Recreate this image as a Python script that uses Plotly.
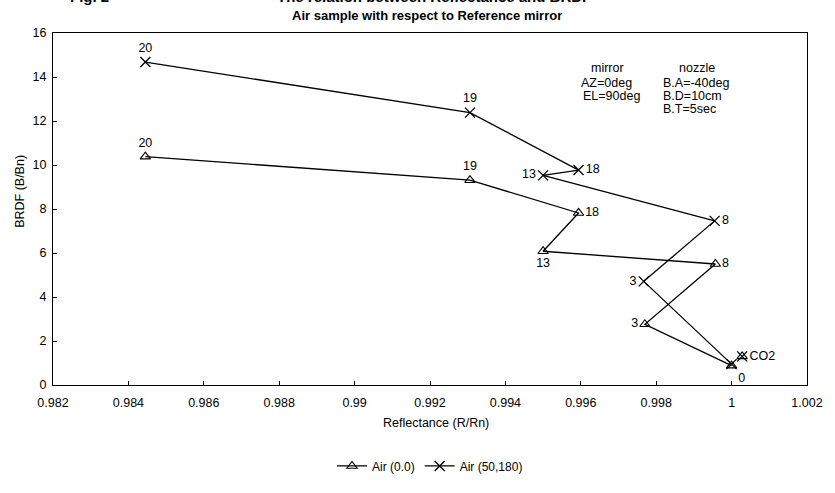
import plotly.graph_objects as go

# Data
labels = ["20", "19", "18", "13", "8", "3", "0"]
air00_x = [0.98445, 0.99306, 0.99594, 0.99500, 0.99957, 0.99770, 1.00000]
air00_y = [10.38, 9.31, 7.82, 6.08, 5.50, 2.76, 0.88]
air50_x = [0.98445, 0.99306, 0.99594, 0.99500, 0.99955, 0.99767, 1.00000]
air50_y = [14.68, 12.38, 9.77, 9.53, 7.46, 4.71, 0.95]
co2_x = [1.00028]
co2_y = [1.30]
co2_label = ["CO2"]

air00_pos = ["top center", "top center", "middle right", "bottom center", "middle right", "middle left", "bottom right"]
air50_pos = ["top center", "top center", "middle right", "middle left", "middle right", "middle left", "middle left"]
air50_text = labels[:-1] + [""]

x_ticks = [0.982, 0.984, 0.986, 0.988, 0.99, 0.992, 0.994, 0.996, 0.998, 1, 1.002]
x_tick_text = ["0.982", "0.984", "0.986", "0.988", "0.99", "0.992", "0.994", "0.996", "0.998", "1", "1.002"]
y_ticks = [0, 2, 4, 6, 8, 10, 12, 14, 16]

FONT = "Liberation Sans, Arial, sans-serif"
FS = 12.5
fig = go.Figure()

fig.add_trace(go.Scatter(
    x=air00_x, y=air00_y, mode="lines+markers+text", name="Air (0.0)",
    text=labels, textposition=air00_pos,
    textfont=dict(size=FS, color="black", family=FONT),
    line=dict(color="black", width=1.3),
    marker=dict(symbol="triangle-up-open", size=9, color="black", line=dict(width=1.1)),
))
fig.add_trace(go.Scatter(
    x=air50_x, y=air50_y, mode="lines+markers+text", name="Air (50,180)",
    text=air50_text, textposition=air50_pos,
    textfont=dict(size=FS, color="black", family=FONT),
    line=dict(color="black", width=1.3),
    marker=dict(symbol="x-thin-open", size=10, color="black", line=dict(width=1.3)),
))
fig.add_trace(go.Scatter(
    x=co2_x, y=co2_y, mode="markers", showlegend=False,
    marker=dict(symbol="triangle-up-open", size=9, color="black", line=dict(width=1.1)),
))
fig.add_trace(go.Scatter(
    x=co2_x, y=co2_y, mode="markers+text", showlegend=False,
    text=co2_label, textposition="middle right",
    textfont=dict(size=FS, color="black", family=FONT),
    marker=dict(symbol="x-thin-open", size=10, color="black", line=dict(width=1.3)),
))

fig.update_layout(
    width=835, height=493,
    margin=dict(l=53, r=16, t=33, b=91),
    paper_bgcolor="white", plot_bgcolor="white",
    font=dict(family=FONT, size=FS, color="black"),
    showlegend=True,
    legend=dict(orientation="h", x=0.5, xanchor="center", y=-0.23, yanchor="middle",
                font=dict(size=12, family=FONT), bgcolor="rgba(0,0,0,0)",
                itemwidth=30, tracegroupgap=0),
)

fig.update_xaxes(range=[0.982, 1.002], tickvals=x_ticks, ticktext=x_tick_text,
                 showgrid=False, zeroline=False, showline=True, linecolor="black",
                 linewidth=1.3, mirror=True, ticks="inside", ticklen=4, tickcolor="black",
                 ticklabelstandoff=6, tickfont=dict(size=FS, family=FONT))
fig.update_yaxes(range=[0, 16], tickvals=y_ticks, showgrid=False, zeroline=False,
                 showline=True, linecolor="black", linewidth=1.3, mirror=True,
                 ticks="inside", ticklen=4, tickcolor="black", ticklabelstandoff=3,
                 tickfont=dict(size=FS, family=FONT))

# Plot area spans x 53..819, y 33..402 in pixels
def px_x(p):
    return (p - 53) / 766.0
def px_y(p):
    return (402 - p) / 369.0

ann = []
ann.append(dict(text="<b>Air sample with respect to Reference mirror</b>", x=px_x(433), y=px_y(15),
                xref="paper", yref="paper", yanchor="middle", xanchor="center",
                showarrow=False, font=dict(size=13)))
ann.append(dict(text="<b>Fig. 2</b>", x=px_x(90), y=px_y(-5), xref="paper", yref="paper",
                yanchor="middle", xanchor="center", showarrow=False, font=dict(size=15)))
ann.append(dict(text="<b>The relation between Reflectance and BRDF</b>", x=px_x(440), y=px_y(-5),
                xref="paper", yref="paper", yanchor="middle", xanchor="center",
                showarrow=False, font=dict(size=15)))
ann.append(dict(text="Reflectance (R/Rn)", x=px_x(442), y=px_y(442), xref="paper", yref="paper",
                yanchor="middle", xanchor="center", showarrow=False, font=dict(size=FS)))
ann.append(dict(text="BRDF (B/Bn)", x=px_x(20), y=px_y(199), xref="paper", yref="paper",
                yanchor="middle", xanchor="center", showarrow=False, textangle=-90,
                font=dict(size=FS)))
# parameter notes
for txt, xp, yp in [("mirror", 598, 70), ("AZ=0deg", 587, 85), ("EL=90deg", 589, 99),
                    ("nozzle", 687, 70), ("B.A=-40deg", 671, 85), ("B.D=10cm", 671, 99),
                    ("B.T=5sec", 671, 113)]:
    ann.append(dict(text=txt, x=px_x(xp), y=px_y(yp), xref="paper", yref="paper",
                    xanchor="left", yanchor="middle", showarrow=False, font=dict(size=FS)))
fig.update_layout(annotations=ann)

fig.write_html("out.html")
